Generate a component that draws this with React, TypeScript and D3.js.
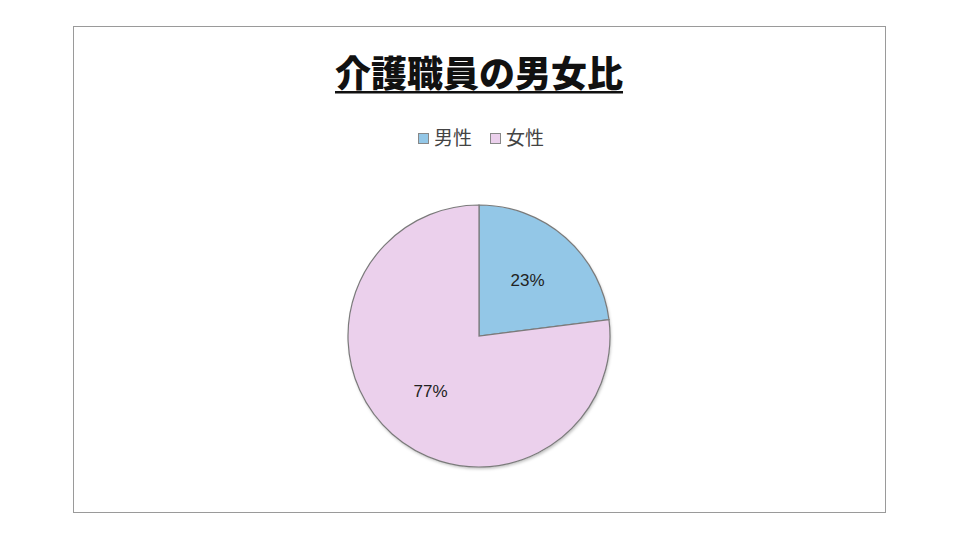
import React, { useEffect, useRef } from 'react';
import * as d3 from 'd3';

const categories = ['男性', '女性'];
const values = [23, 77];
const colors = ['#93c7e7', '#ebd0ec'];
const chartTitle = '介護職員の男女比';

const App: React.FC = () => {
  const svgRef = useRef<SVGSVGElement>(null);

  useEffect(() => {
    if (!svgRef.current) {return;}
    const svg = d3.select(svgRef.current);
    svg.selectAll('*').remove();

    const width = 960;
    const height = 540;
    const cx = 479;
    const cy = 336;
    const radius = 131;

    svg.append('rect')
      .attr('width', width)
      .attr('height', height)
      .attr('fill', '#fff');

    // 外枠
    svg.append('rect')
      .attr('x', 73.5)
      .attr('y', 26.5)
      .attr('width', 812)
      .attr('height', 486)
      .attr('fill', 'none')
      .attr('stroke', '#9a9a9a')
      .attr('stroke-width', 1);

    // タイトル
    const title = svg.append('text')
      .attr('x', 479)
      .attr('y', 87)
      .attr('text-anchor', 'middle')
      .attr('font-family', '"Noto Sans CJK JP", sans-serif')
      .attr('font-weight', 900)
      .attr('font-size', 36)
      .attr('fill', '#111')
      .text(chartTitle);
    const tw = (title.node() as SVGTextElement).getComputedTextLength();
    svg.append('rect')
      .attr('x', 479 - tw / 2)
      .attr('y', 91)
      .attr('width', tw)
      .attr('height', 2.5)
      .attr('fill', '#111');

    // 凡例
    const legendX = [418, 490];
    const legend = svg.append('g');
    categories.forEach((c, i) => {
      legend.append('rect')
        .attr('x', legendX[i] + 0.5)
        .attr('y', 133.5)
        .attr('width', 10)
        .attr('height', 10)
        .attr('fill', colors[i])
        .attr('stroke', '#888')
        .attr('stroke-width', 1);
      legend.append('text')
        .attr('x', legendX[i] + 16)
        .attr('y', 145)
        .attr('font-family', '"Noto Sans CJK JP", sans-serif')
        .attr('font-size', 19)
        .attr('fill', '#444')
        .text(c);
    });

    // 影
    const defs = svg.append('defs');
    const filter = defs.append('filter')
      .attr('id', 'shadow')
      .attr('x', '-10%').attr('y', '-10%')
      .attr('width', '120%').attr('height', '120%');
    filter.append('feDropShadow')
      .attr('dx', 1)
      .attr('dy', 2)
      .attr('stdDeviation', 1.5)
      .attr('flood-color', '#000')
      .attr('flood-opacity', 0.25);

    const pie = d3.pie<number>().sort(null).value(d => d);
    const arcs = pie(values);
    const arc = d3.arc<d3.PieArcDatum<number>>().innerRadius(0).outerRadius(radius);

    const g = svg.append('g').attr('transform', `translate(${cx},${cy})`);
    g.append('circle')
      .attr('r', radius)
      .attr('fill', '#fff')
      .attr('filter', 'url(#shadow)');
    g.selectAll('path')
      .data(arcs)
      .enter()
      .append('path')
      .attr('d', arc)
      .attr('fill', (d, i) => colors[i])
      .attr('stroke', '#7a7a7a')
      .attr('stroke-width', 1.2);

    const labelArc = d3.arc<d3.PieArcDatum<number>>().innerRadius(radius * 0.56).outerRadius(radius * 0.56);
    g.selectAll('.lbl')
      .data(arcs)
      .enter()
      .append('text')
      .attr('class', 'lbl')
      .attr('transform', d => `translate(${labelArc.centroid(d)})`)
      .attr('text-anchor', 'middle')
      .attr('dominant-baseline', 'central')
      .attr('font-family', '"Liberation Sans", Arial, sans-serif')
      .attr('font-size', 17)
      .attr('fill', '#222')
      .text(d => `${d.data}%`);
  }, []);

  return (
    <svg
      ref={svgRef}
      width={960}
      height={540}
      style={{ position: 'fixed', left: 0, top: 0, display: 'block' }}
    />
  );
};

export default App;
